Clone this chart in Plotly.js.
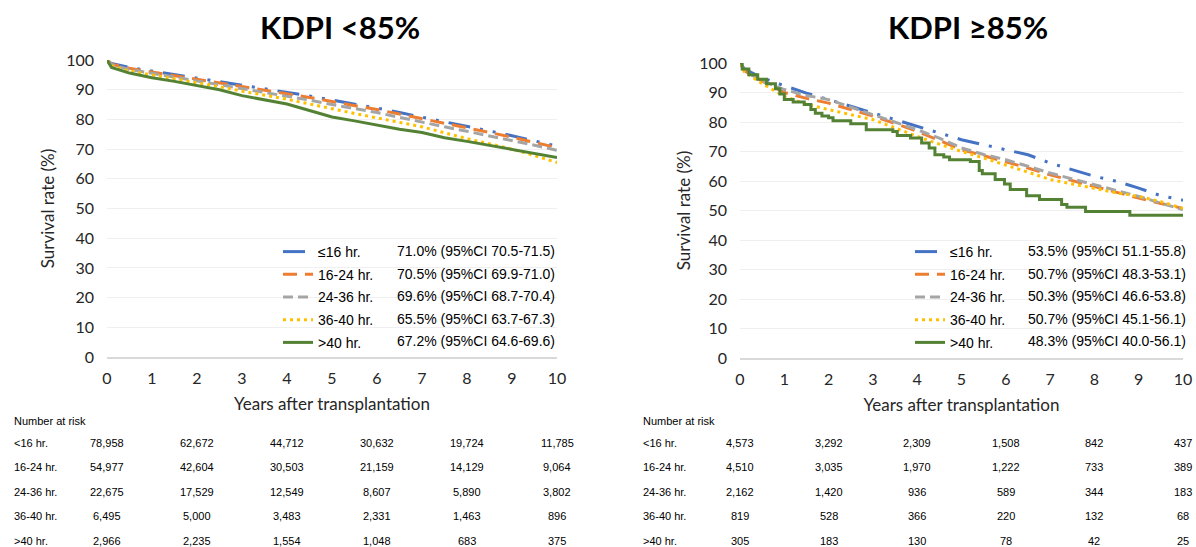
<!DOCTYPE html>
<html>
<head>
<meta charset="utf-8">
<script src="https://cdn.plot.ly/plotly-3.0.1.min.js"></script>
<style>html,body{margin:0;padding:0;background:#fff;}#chart{width:1196px;height:547px;}</style>
</head>
<body>
<div id="chart"></div>
<script>
// ---------- data ----------
const groupNames = ["≤16 hr.", "16-24 hr.", "24-36 hr.", "36-40 hr.", ">40 hr."];
const riskLabels = ["<16 hr.", "16-24 hr.", "24-36 hr.", "36-40 hr.", ">40 hr."];
const riskYears = [0, 2, 4, 6, 8, 10];

// KDPI <85%
const yearsLow = [0, 0.1, 0.5, 1, 1.5, 2, 2.5, 3, 3.5, 4, 4.5, 5, 5.5, 6, 6.5, 7, 7.5, 8, 8.5, 9, 9.5, 10];
const lowLe16  = [100, 98.8, 97.5, 96.3, 95.2, 94.0, 92.9, 91.7, 90.5, 89.2, 87.9, 86.5, 85.2, 83.8, 82.3, 80.8, 79.3, 77.7, 76.1, 74.5, 72.8, 71.0];
const low16_24 = [100, 98.6, 97.2, 96.0, 94.8, 93.6, 92.4, 91.2, 90.0, 88.7, 87.4, 86.0, 84.7, 83.3, 81.8, 80.3, 78.8, 77.2, 75.6, 74.0, 72.3, 70.5];
const low24_36 = [100, 98.4, 96.8, 95.5, 94.3, 93.0, 91.8, 90.5, 89.2, 87.9, 86.5, 85.0, 83.7, 82.3, 80.7, 79.0, 77.5, 76.0, 74.5, 73.0, 71.3, 69.6];
const low36_40 = [100, 98.0, 96.3, 95.0, 93.7, 92.4, 91.0, 89.5, 88.2, 86.8, 85.2, 83.5, 82.0, 80.5, 79.0, 77.5, 75.5, 73.5, 71.8, 70.0, 67.8, 65.5];
const lowGt40  = [100, 97.5, 95.6, 94.0, 92.8, 91.5, 90.0, 88.0, 86.6, 85.2, 83.0, 80.8, 79.5, 78.0, 76.7, 75.6, 73.8, 72.6, 71.3, 69.8, 68.5, 67.2];
const lowCI = ["71.0% (95%CI 70.5-71.5)", "70.5% (95%CI 69.9-71.0)", "69.6% (95%CI 68.7-70.4)", "65.5% (95%CI 63.7-67.3)", "67.2% (95%CI 64.6-69.6)"];
const lowRisk = [
  ["78,958", "62,672", "44,712", "30,632", "19,724", "11,785"],
  ["54,977", "42,604", "30,503", "21,159", "14,129", "9,064"],
  ["22,675", "17,529", "12,549", "8,607", "5,890", "3,802"],
  ["6,495", "5,000", "3,483", "2,331", "1,463", "896"],
  ["2,966", "2,235", "1,554", "1,048", "683", "375"]
];

// KDPI >=85%
const yearsHigh = [0, 0.1, 0.25, 0.5, 1, 1.5, 2, 2.5, 3, 3.5, 4, 4.5, 5, 5.5, 6, 6.5, 7, 7.5, 8, 8.5, 9, 9.5, 10];
const highLe16  = [100, 98.0, 96.8, 95.0, 92.3, 89.8, 87.6, 85.3, 83.0, 80.8, 78.5, 76.3, 74.0, 72.3, 70.6, 68.9, 66.1, 63.8, 61.6, 59.9, 57.6, 55.0, 53.5];
const high16_24 = [100, 97.5, 95.8, 93.8, 90.0, 88.0, 86.4, 84.2, 82.0, 79.5, 76.8, 73.8, 70.6, 68.6, 66.6, 64.4, 62.1, 60.1, 58.2, 56.2, 54.2, 52.4, 50.7];
const high24_36 = [100, 97.5, 96.0, 94.0, 91.0, 89.0, 87.6, 85.0, 82.5, 80.0, 77.4, 74.5, 71.2, 69.0, 67.2, 65.0, 62.7, 60.7, 58.8, 56.8, 54.8, 52.5, 50.3];
const high36_40 = [100, 97.0, 95.5, 93.0, 88.7, 86.0, 84.2, 82.5, 80.8, 78.0, 75.1, 72.5, 70.0, 67.8, 65.5, 63.0, 60.5, 59.0, 57.6, 56.0, 54.8, 53.0, 50.7];
const highGt40Years = [0, 0.05, 0.2, 0.4, 0.6, 0.8, 0.9, 1.0, 1.2, 1.45, 1.6, 1.7, 1.85, 2.0, 2.1, 2.5, 2.85, 3.45, 3.55, 3.85, 4.1, 4.27, 4.4, 4.6, 4.73, 5.2, 5.4, 5.47, 5.76, 5.97, 6.1, 6.47, 6.76, 7.26, 7.38, 7.8, 8.8, 10];
const highGt40 = [100, 98, 96, 94.5, 93, 91.3, 89.5, 87.6, 86.8, 85.9, 84.2, 83, 82, 81.4, 80.4, 79.4, 77.4, 76.8, 75.4, 74.6, 72.9, 71.2, 68.9, 68.1, 67.2, 66.6, 63.6, 62.5, 60.5, 59.0, 57.1, 55.0, 53.7, 52.0, 51.1, 49.7, 48.4, 48.4];
const highCI = ["53.5% (95%CI 51.1-55.8)", "50.7% (95%CI 48.3-53.1)", "50.3% (95%CI 46.6-53.8)", "50.7% (95%CI 45.1-56.1)", "48.3% (95%CI 40.0-56.1)"];
const highRisk = [
  ["4,573", "3,292", "2,309", "1,508", "842", "437"],
  ["4,510", "3,035", "1,970", "1,222", "733", "389"],
  ["2,162", "1,420", "936", "589", "344", "183"],
  ["819", "528", "366", "220", "132", "68"],
  ["305", "183", "130", "78", "42", "25"]
];

// ---------- styles ----------
const colors = ["#4472C4", "#ED7D31", "#A5A5A5", "#FFC000", "#548235"];
const dashes = ["22px,10px,3px,10px,3px,10px", "14px,8px", "10px,5px", "3px,4px", "solid"];
const W = 1196, H = 547;
const px = v => v / W, py = v => 1 - v / H;

const lowY = [lowLe16, low16_24, low24_36, low36_40, lowGt40];
const highY = [highLe16, high16_24, high24_36, high36_40, null];

const traces = [];
lowY.forEach((ys, i) => {
  traces.push({
    x: yearsLow, y: ys, type: "scatter", mode: "lines", name: groupNames[i],
    line: {color: colors[i], width: 3, dash: dashes[i], shape: "linear"},
    xaxis: "x", yaxis: "y", legend: "legend", legendgroup: "L" + i, hoverinfo: "skip"
  });
});
highY.forEach((ys, i) => {
  const isLast = i === 4;
  traces.push({
    x: isLast ? highGt40Years : yearsHigh, y: isLast ? highGt40 : ys,
    type: "scatter", mode: "lines", name: groupNames[i],
    line: {color: colors[i], width: 3, dash: dashes[i], shape: isLast ? "hv" : "linear"},
    xaxis: "x2", yaxis: "y2", legend: "legend2", legendgroup: "H" + i, hoverinfo: "skip"
  });
});

const tickFont = {family: "Lato, 'Open Sans', sans-serif", size: 16, color: "#262626"};
const titleFont = {family: "Lato, 'Open Sans', sans-serif", size: 17, color: "#262626"};

function xAxis(domain, anchor) {
  return {
    domain: domain, anchor: anchor, range: [0, 10], dtick: 1, tick0: 0,
    showgrid: false, zeroline: false, showline: true, linecolor: "#d9d9d9", linewidth: 2,
    ticks: "", ticklabelstandoff: 6, tickfont: tickFont, automargin: false, fixedrange: true,
    title: {text: "Years after transplantation", font: titleFont, standoff: 12}
  };
}
function yAxis(domain, anchor, standoff) {
  return {
    domain: domain, anchor: anchor, range: [0, 100], dtick: 10, tick0: 0,
    showgrid: true, gridcolor: "#efefef", gridwidth: 1, zeroline: false, showline: false,
    ticks: "", ticklabelstandoff: 12, tickfont: tickFont, automargin: false, fixedrange: true,
    title: {text: "Survival rate (%)", font: titleFont, standoff: standoff}
  };
}

const annotations = [];
// panel titles
annotations.push({text: "<b>KDPI &lt;85%</b>", xref: "paper", yref: "paper", x: px(340), y: py(27), xanchor: "center", yanchor: "middle", showarrow: false, font: {family: "Lato, sans-serif", size: 31, color: "#000"}});
annotations.push({text: "<b>KDPI ≥85%</b>", xref: "paper", yref: "paper", x: px(968), y: py(27), xanchor: "center", yanchor: "middle", showarrow: false, font: {family: "Lato, sans-serif", size: 31, color: "#000"}});

const legFont = {family: "'Liberation Sans', Arial, sans-serif", size: 14, color: "#000"};
const legRows = [251, 273.5, 296, 318.5, 341];
lowCI.forEach((t, i) => annotations.push({text: t, xref: "paper", yref: "paper", x: px(395), y: py(legRows[i]), xanchor: "left", yanchor: "middle", showarrow: false, font: legFont}));
highCI.forEach((t, i) => annotations.push({text: t, xref: "paper", yref: "paper", x: px(1026), y: py(legRows[i]), xanchor: "left", yanchor: "middle", showarrow: false, font: legFont}));

// number at risk tables
const riskFont = {family: "'Liberation Sans', Arial, sans-serif", size: 11, color: "#000"};
const riskRows = [443, 467, 492, 516, 541];
[[lowRisk, "x", 12], [highRisk, "x2", 641]].forEach(([tbl, xr, lx]) => {
  annotations.push({text: "Number at risk", xref: "paper", yref: "paper", x: px(lx), y: py(421), xanchor: "left", yanchor: "middle", showarrow: false, font: riskFont});
  tbl.forEach((row, r) => {
    annotations.push({text: riskLabels[r], xref: "paper", yref: "paper", x: px(lx), y: py(riskRows[r]), xanchor: "left", yanchor: "middle", showarrow: false, font: riskFont});
    row.forEach((v, c) => annotations.push({text: v, xref: xr, yref: "paper", x: riskYears[c], y: py(riskRows[r]), xanchor: "center", yanchor: "middle", showarrow: false, font: riskFont}));
  });
});

const layout = {
  width: W, height: H, margin: {l: 0, r: 0, t: 0, b: 0},
  paper_bgcolor: "#fff", plot_bgcolor: "#fff",
  xaxis: xAxis([px(107), px(557)], "y"),
  yaxis: yAxis([py(357), py(60)], "x", 7),
  xaxis2: xAxis([px(740), px(1183)], "y2"),
  yaxis2: yAxis([py(358), py(63)], "x2", 4),
  legend: {x: px(278), y: py(236), xanchor: "left", yanchor: "top", bgcolor: "rgba(0,0,0,0)", font: legFont, itemwidth: 30, tracegroupgap: 1.5},
  legend2: {x: px(910), y: py(236), xanchor: "left", yanchor: "top", bgcolor: "rgba(0,0,0,0)", font: legFont, itemwidth: 30, tracegroupgap: 1.5},
  showlegend: true,
  annotations: annotations
};

Plotly.newPlot("chart", traces, layout, {displayModeBar: false, staticPlot: true});
</script>
</body>
</html>
